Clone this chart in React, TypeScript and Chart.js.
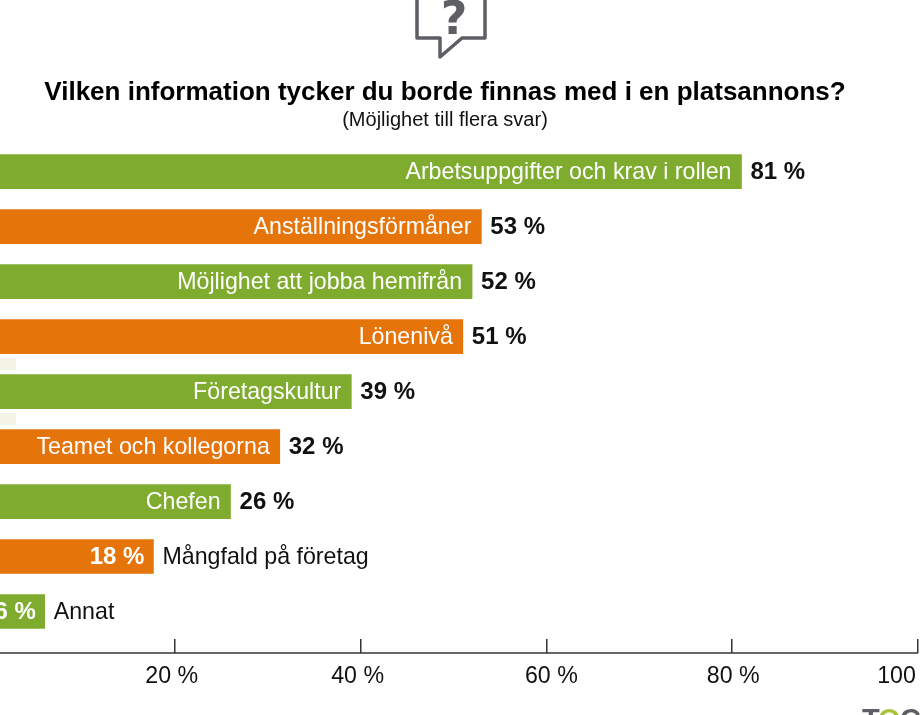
import React, { useEffect, useRef } from 'react';
import { Chart, registerables } from 'chart.js';

Chart.register(...registerables);

const categories = [
  'Arbetsuppgifter och krav i rollen',
  'Anställningsförmåner',
  'Möjlighet att jobba hemifrån',
  'Lönenivå',
  'Företagskultur',
  'Teamet och kollegorna',
  'Chefen',
  'Mångfald på företag',
  'Annat',
];
// tryckta procenttal
const shares = [81, 53, 52, 51, 39, 32, 26, 18, 6];
// staplarnas längd avläst i bilden, två av dem är något kortare än sina tal
const barLengths = [81, 53, 52, 51, 39, 31.3, 26, 17.7, 6];

const GREEN = '#7fac2f';
const ORANGE = '#e5740b';
const INK = '#111111';
const GREY = '#5e5f64';
const FONT = '"Liberation Sans", Arial, sans-serif';

// kategorin ryms inte i korta staplar, då hamnar den utanför
const OUTSIDE_BELOW = 20;
// etiketterna på x-axeln sitter inte exakt under sina streck i originalet
const tickLabelNudge: Record<number, number> = { 20: -3, 40: -3, 60: 5, 80: 1, 100: -8 };

const barText = {
  id: 'barText',
  afterDatasetsDraw(chart: Chart) {
    const { ctx } = chart;
    const meta = chart.getDatasetMeta(0);
    ctx.save();
    ctx.textBaseline = 'middle';
    meta.data.forEach((bar: any, i: number) => {
      const value = `${shares[i]} %`;
      const y = bar.y + 1;
      if (shares[i] < OUTSIDE_BELOW) {
        ctx.font = `bold 24px ${FONT}`;
        ctx.fillStyle = '#fff';
        ctx.textAlign = 'right';
        ctx.fillText(value, bar.x - 9, y);
        ctx.font = `23.2px ${FONT}`;
        ctx.fillStyle = INK;
        ctx.textAlign = 'left';
        ctx.fillText(categories[i], bar.x + 9, y);
      } else {
        ctx.font = `23.2px ${FONT}`;
        ctx.fillStyle = '#fff';
        ctx.textAlign = 'right';
        ctx.fillText(categories[i], bar.x - 10, y);
        ctx.font = `bold 24px ${FONT}`;
        ctx.fillStyle = INK;
        ctx.textAlign = 'left';
        ctx.fillText(value, bar.x + 9, y);
      }
    });
    ctx.restore();
  },
};

// axellinjen, ikonen, logotypen och de svaga fläckarna i vänsterkanten
const decorations = {
  id: 'decorations',
  beforeDatasetsDraw(chart: Chart) {
    const { ctx } = chart;
    const x = chart.scales.x;
    const meta = chart.getDatasetMeta(0);
    ctx.save();
    ctx.fillStyle = '#f3f3e6';
    [3, 4].forEach((i) => {
      const mid = ((meta.data[i] as any).y + (meta.data[i + 1] as any).y) / 2;
      ctx.fillRect(x.getPixelForValue(0), mid - 6, x.getPixelForValue(2.9) - x.getPixelForValue(0), 12);
    });
    ctx.restore();
  },
  afterDraw(chart: Chart) {
    const { ctx } = chart;
    const x = chart.scales.x;
    const axisY = chart.chartArea.bottom + 14;
    const cx = chart.width / 2 + 6;
    ctx.save();
    ctx.strokeStyle = '#333';
    ctx.lineWidth = 1.5;
    ctx.beginPath();
    ctx.moveTo(x.getPixelForValue(0), axisY);
    ctx.lineTo(x.getPixelForValue(100), axisY);
    ctx.stroke();

    ctx.font = `23.2px ${FONT}`;
    ctx.fillStyle = INK;
    ctx.textAlign = 'center';
    ctx.textBaseline = 'middle';
    x.ticks.forEach((t: any) => {
      if (t.value === 0) return;
      ctx.fillText(`${t.value} %`, x.getPixelForValue(t.value) + (tickLabelNudge[t.value] || 0), axisY + 24);
    });

    // pratbubblan
    ctx.strokeStyle = GREY;
    ctx.lineWidth = 3.5;
    ctx.lineJoin = 'round';
    ctx.beginPath();
    ctx.moveTo(cx - 34, -4);
    ctx.lineTo(cx - 34, 38);
    ctx.lineTo(cx - 11, 38);
    ctx.lineTo(cx - 11, 57);
    ctx.lineTo(cx + 11, 38);
    ctx.lineTo(cx + 34, 38);
    ctx.lineTo(cx + 34, -4);
    ctx.stroke();
    ctx.fillStyle = GREY;
    ctx.font = 'bold 46px "DejaVu Sans"';
    ctx.textAlign = 'center';
    ctx.textBaseline = 'alphabetic';
    ctx.fillText('?', cx + 3, 34);

    // logotypen, beskuren av bildens nederkant
    const logoLeft = x.getPixelForValue(100) - 56;
    ctx.font = `bold 29px ${FONT}`;
    ctx.textAlign = 'left';
    ctx.fillStyle = GREY;
    ctx.fillText('T', logoLeft, 729);
    ctx.fillStyle = '#a7c43b';
    ctx.fillText('O', logoLeft + 16, 729);
    ctx.fillStyle = GREY;
    ctx.fillText('C', logoLeft + 38, 729);
    ctx.restore();
  },
};

export default function App() {
  const canvasRef = useRef<HTMLCanvasElement>(null);

  useEffect(() => {
    if (!canvasRef.current) return;
    const chart = new Chart(canvasRef.current, {
      type: 'bar',
      data: {
        labels: categories,
        datasets: [
          {
            data: barLengths,
            backgroundColor: barLengths.map((_, i) => (i % 2 === 0 ? GREEN : ORANGE)),
            barThickness: 34,
          },
        ],
      },
      options: {
        indexAxis: 'y',
        animation: false,
        responsive: false,
        devicePixelRatio: 1,
        layout: { padding: { left: 32, right: 32 } },
        plugins: {
          legend: { display: false },
          tooltip: { enabled: false },
          title: {
            display: true,
            text: 'Vilken information tycker du borde finnas med i en platsannons?',
            color: '#000',
            font: { family: FONT, size: 26, weight: 'bold' },
            padding: { top: 77, bottom: 0 },
          },
          subtitle: {
            display: true,
            text: '(Möjlighet till flera svar)',
            color: INK,
            font: { family: FONT, size: 20, weight: 'normal' },
            padding: { top: 0, bottom: 12 },
          },
        },
        scales: {
          x: {
            min: 0,
            max: 100,
            afterFit: (scale: any) => {
              scale.height = 76;
            },
            border: { display: false },
            grid: { drawOnChartArea: false, drawTicks: true, tickLength: 14, color: '#333', lineWidth: 1.5 },
            ticks: { display: false, stepSize: 20 },
          },
          y: {
            grid: { display: false },
            border: { display: false },
            ticks: { display: false },
            afterFit: (scale: any) => {
              scale.width = 17;
            },
          },
        },
      },
      plugins: [barText, decorations],
    });
    return () => chart.destroy();
  }, []);

  return (
    <div style={{ position: 'fixed', left: 0, top: 0, width: 921, height: 715, overflow: 'hidden', background: '#fff' }}>
      <canvas ref={canvasRef} width={1010} height={715} style={{ position: 'absolute', left: -60, top: 0 }} />
    </div>
  );
}
